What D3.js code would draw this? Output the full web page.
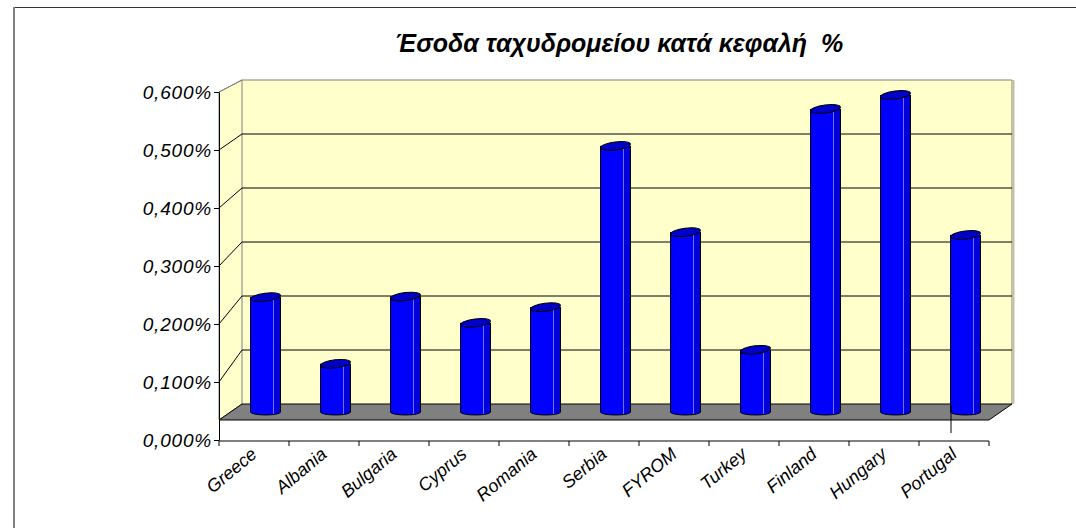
<!DOCTYPE html>
<meta charset="utf-8">
<script src="https://d3js.org/d3.v7.min.js"></script>
<style>
  body { margin: 0; background: #fff; }
  text { font-family: "Liberation Sans", Arial, sans-serif; }
</style>
<div id="chart"></div>
<script>

// data (values in %)
var categories = ["Greece", "Albania", "Bulgaria", "Cyprus", "Romania", "Serbia",
                  "FYROM", "Turkey", "Finland", "Hungary", "Portugal"];
var values = [0.223, 0.104, 0.224, 0.177, 0.205, 0.493, 0.339, 0.129, 0.559, 0.584, 0.334];
var tickValues = [0, 0.1, 0.2, 0.3, 0.4, 0.5, 0.6];
var title = "Έσοδα ταχυδρομείου κατά κεφαλή  %";

var width = 1076, height = 528;

var svg = d3.select("#chart")
  .append("svg")
    .attr("width", width)
    .attr("height", height);

// outer chart border (runs off the picture at right and bottom)
svg.append("line").attr("x1", 13).attr("x2", width).attr("y1", 7.5).attr("y2", 7.5)
  .attr("stroke", "#333").attr("stroke-width", 1);
svg.append("line").attr("x1", 14).attr("x2", 14).attr("y1", 7).attr("y2", height)
  .attr("stroke", "#808080").attr("stroke-width", 2);

// 3D geometry: front plane, back plane, depth offset
var left = 219, right = 989, depthX = 23;
var x = d3.scaleBand().domain(categories).range([left, right]).padding(0);
var yFront = d3.scaleLinear().domain([0, 0.6]).range([440, 92]);
var yBack = d3.scaleLinear().domain([0, 0.6]).range([404, 80]);
var yMid = d3.scaleLinear().domain([0, 0.6]).range([422, 86]);
var floorFront = 420, floorBack = 404, floorMid = 412;

// back wall
svg.append("rect")
  .attr("x", left + depthX).attr("y", yBack(0.6))
  .attr("width", right - left).attr("height", floorBack - yBack(0.6))
  .attr("fill", "#ffffcc");
svg.append("path")
  .attr("d", "M" + (left + depthX) + "," + yBack(0.6) + "H" + (right + depthX) + "V" + floorBack)
  .attr("fill", "none").attr("stroke", "#808080");
svg.append("line")
  .attr("x1", right + depthX + 1.5).attr("x2", right + depthX + 1.5)
  .attr("y1", yBack(0.6)).attr("y2", floorBack)
  .attr("stroke", "#c8c0a0").attr("stroke-width", 2);

// side wall
svg.append("path")
  .attr("d", "M" + left + "," + yFront(0.6) + "L" + (left + depthX) + "," + yBack(0.6) +
             "V" + floorBack + "L" + left + "," + floorFront + "Z")
  .attr("fill", "#ffffcc").attr("stroke", "#808080");

// gridlines on back and side walls
var grid = tickValues.filter(function(d) { return d > 0 && d < 0.6; });
svg.selectAll(".gridBack").data(grid).enter().append("line")
  .attr("x1", left + depthX).attr("x2", right + depthX)
  .attr("y1", function(d) { return yBack(d); })
  .attr("y2", function(d) { return yBack(d); })
  .attr("stroke", "#000");
svg.selectAll(".gridSide").data(grid).enter().append("line")
  .attr("x1", left).attr("x2", left + depthX)
  .attr("y1", function(d) { return yFront(d); })
  .attr("y2", function(d) { return yBack(d); })
  .attr("stroke", "#000");
svg.append("line")
  .attr("x1", left).attr("x2", left + depthX)
  .attr("y1", yFront(0.6)).attr("y2", yBack(0.6))
  .attr("stroke", "#808080");

// floor
svg.append("path")
  .attr("d", "M" + left + "," + floorFront + "L" + (left + depthX) + "," + floorBack +
             "H" + (right + depthX) + "L" + right + "," + floorFront + "Z")
  .attr("fill", "#808080").attr("stroke", "#000");

// cylinders
var r = 15;
var bars = svg.selectAll(".bar").data(categories).enter().append("g")
  .attr("transform", function(d) { return "translate(" + (x(d) + x.bandwidth() / 2 + depthX / 2) + ",0)"; });

bars.append("ellipse")
  .attr("cx", 0).attr("cy", floorMid).attr("rx", r).attr("ry", 3)
  .attr("fill", "#0000ff").attr("stroke", "#000");
bars.append("rect")
  .attr("x", -r).attr("width", 2 * r)
  .attr("y", function(d, i) { return yMid(values[i]); })
  .attr("height", function(d, i) { return floorMid - yMid(values[i]); })
  .attr("fill", "#0000ff");
bars.append("rect")
  .attr("x", r - 7).attr("width", 7)
  .attr("y", function(d, i) { return yMid(values[i]); })
  .attr("height", function(d, i) { return floorMid - yMid(values[i]); })
  .attr("fill", "#0000d8");
bars.append("line")
  .attr("x1", r - 7).attr("x2", r - 7)
  .attr("y1", function(d, i) { return yMid(values[i]); })
  .attr("y2", floorMid + 2)
  .attr("stroke", "#7070ff").attr("stroke-width", 1);
bars.append("path")
  .attr("d", function(d, i) {
    var t = yMid(values[i]);
    return "M" + (-r) + "," + t + "V" + floorMid + "M" + r + "," + t + "V" + floorMid;
  })
  .attr("stroke", "#000").attr("fill", "none");
bars.append("ellipse")
  .attr("cx", 0).attr("cy", 0).attr("rx", r).attr("ry", 4)
  .attr("transform", function(d, i) { return "translate(0," + yMid(values[i]) + ") rotate(-7)"; })
  .attr("fill", "#0000c8").attr("stroke", "#000");

// stray vertical line under the last column
var last = categories[categories.length - 1];
svg.append("line")
  .attr("x1", x(last) + x.bandwidth() / 2 + depthX / 2 - r + 0.5)
  .attr("x2", x(last) + x.bandwidth() / 2 + depthX / 2 - r + 0.5)
  .attr("y1", floorBack + 1).attr("y2", 433)
  .attr("stroke", "#000");

// value axis
var locale = d3.formatLocale({decimal: ",", thousands: ".", grouping: [3], currency: ["", "€"]});
var fmt = locale.format(".3f");
var yAxis = svg.append("g")
  .attr("transform", "translate(" + left + ",0)")
  .call(d3.axisLeft(yFront).tickValues(tickValues).tickSize(5).tickSizeOuter(0)
    .tickFormat(function(d) { return fmt(d) + "%"; }));
yAxis.selectAll("text")
  .attr("font-size", 19).attr("font-style", "italic").attr("fill", "#000")
  .attr("letter-spacing", 0.8)
  .attr("x", -7)
  .attr("font-family", "Liberation Sans, Arial, sans-serif");
yAxis.select(".domain").attr("stroke", "#000");

// category axis: line with ticks at band edges
var axisY = 441;
svg.append("line")
  .attr("x1", left).attr("x2", right).attr("y1", axisY).attr("y2", axisY)
  .attr("stroke", "#000");
var edges = categories.map(function(d) { return x(d); }).concat([right]);
svg.selectAll(".catTick").data(edges).enter().append("line")
  .attr("x1", function(d) { return d; }).attr("x2", function(d) { return d; })
  .attr("y1", axisY).attr("y2", axisY + 5)
  .attr("stroke", "#000");
svg.selectAll(".catLabel").data(categories).enter().append("text")
  .attr("transform", function(d) {
    return "translate(" + (x(d) + x.bandwidth() / 2 + 4) + "," + 456 + ") rotate(-40)";
  })
  .attr("text-anchor", "end")
  .attr("font-size", 18).attr("font-style", "italic")
  .text(function(d) { return d; });

// title
svg.append("text")
  .attr("x", 619).attr("y", 52)
  .attr("text-anchor", "middle")
  .attr("font-size", 25).style("font-weight", "700").attr("font-style", "italic")
  .style("white-space", "pre")
  .text(title);

</script>
